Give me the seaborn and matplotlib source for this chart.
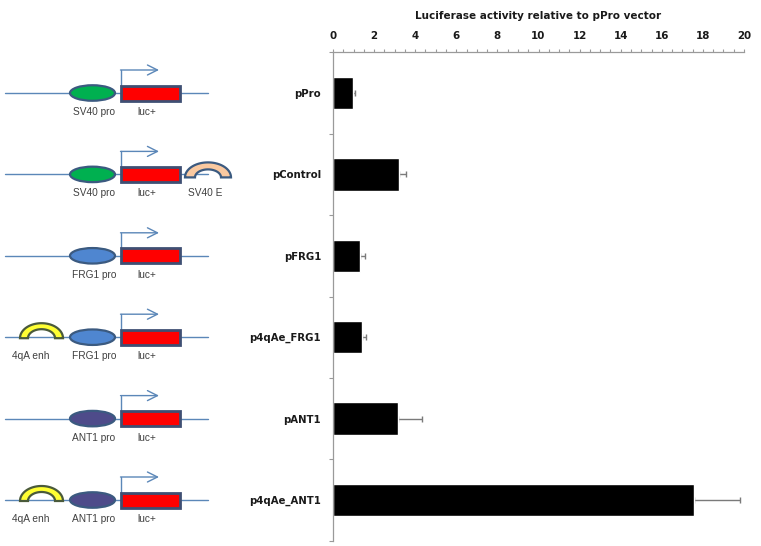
import numpy as np
import pandas as pd
import seaborn as sns
import matplotlib.pyplot as plt
from matplotlib.patches import Ellipse, Rectangle, Polygon

# ---------------- data ----------------
constructs = ["pPro", "pControl", "pFRG1", "p4qAe_FRG1", "pANT1", "p4qAe_ANT1"]
activity = [0.96, 3.23, 1.33, 1.40, 3.15, 17.58]
error_hi = [0.10, 0.32, 0.25, 0.21, 1.20, 2.24]
x_ticks = [0, 2, 4, 6, 8, 10, 12, 14, 16, 18, 20]
x_title = "Luciferase activity relative to pPro vector"

# diagram components per construct
promoter_label = ["SV40 pro", "SV40 pro", "FRG1 pro", "FRG1 pro", "ANT1 pro", "ANT1 pro"]
promoter_color = ["#00b050", "#00b050", "#4f86d0", "#4f86d0", "#4e4b8a", "#4e4b8a"]
has_enhancer = [False, False, False, True, False, True]
has_sv40e = [False, True, False, False, False, False]

df = pd.DataFrame({"construct": constructs, "activity": activity})

sns.set_theme(style="white")
plt.rcParams["font.family"] = ["DejaVu Sans"]

W, H = 761, 546
fig = plt.figure(figsize=(W / 100, H / 100), dpi=100)
fig.patch.set_facecolor("white")

top_px, bot_px = 52.3, 540.7
left_px, right_px = 333, 744
ax_rect = [left_px / W, 1 - bot_px / H, (right_px - left_px) / W, (bot_px - top_px) / H]
ax = fig.add_axes(ax_rect)

sns.barplot(data=df, x="activity", y="construct", orient="h", color="black",
            saturation=1, width=0.4, errorbar=None, ax=ax, zorder=2)
ypos = np.arange(len(constructs))
ax.errorbar(activity, ypos, xerr=[np.zeros(len(activity)), error_hi], fmt="none",
            ecolor="#7a7a7a", elinewidth=1, capsize=2.5, capthick=1, zorder=1)

ax.set_xlim(0, 20)
ax.set_ylim(len(constructs) - 0.5, -0.5)
ax.xaxis.tick_top()
ax.xaxis.set_label_position("top")
ax.set_xticks(x_ticks)
ax.set_xticklabels([str(t) for t in x_ticks], fontsize=7.4, fontweight="bold", color="#1a1a1a")
ax.set_xticks(np.arange(0, 20.01, 0.5), minor=True)
ax.tick_params(axis="x", which="both", direction="out", length=2.5, width=0.8,
               color="#9a9a9a", pad=5.5, top=True, bottom=False)
ax.set_xlabel(x_title, fontsize=7.5, fontweight="bold", color="#1a1a1a", labelpad=9)
ax.set_ylabel("")
ax.set_yticks(ypos)
ax.set_yticklabels(constructs, fontsize=7.3, fontweight="bold", color="#1a1a1a")
ax.set_yticks(np.arange(-0.5, len(constructs)), minor=True)
ax.tick_params(axis="y", which="major", length=0, pad=8.5)
ax.tick_params(axis="y", which="minor", direction="out", length=3, width=0.8,
               color="#9a9a9a", left=True)
for s in ["right", "bottom"]:
    ax.spines[s].set_visible(False)
for s in ["left", "top"]:
    ax.spines[s].set_color("#9a9a9a")
    ax.spines[s].set_linewidth(0.9)
ax.grid(False)

# ---------------- construct diagrams ----------------
dax = fig.add_axes([0, ax_rect[1], left_px / W, ax_rect[3]])
dax.set_xlim(0, left_px)
dax.set_ylim(len(constructs) - 0.5, -0.5)
dax.axis("off")
ppc = (bot_px - top_px) / len(constructs)  # pixels per category


def py(p):
    return p / ppc


def arch(cx, y0, a, b, ts, tt, face, edge):
    th = np.linspace(0, np.pi, 60)
    outer = np.column_stack([cx + a * np.cos(th), y0 - py(b) * np.sin(th)])
    inner = np.column_stack([cx + (a - ts) * np.cos(th[::-1]),
                             y0 - py(b - tt) * np.sin(th[::-1])])
    dax.add_patch(Polygon(np.vstack([outer, inner]), closed=True, facecolor=face,
                          edgecolor=edge, linewidth=1.6, zorder=3))


line_c = "#5b87b8"
edge_c = "#3b5a80"
txt_c = "#404040"
lab_kw = dict(fontsize=7.3, color=txt_c, ha="center", va="center",
              family=["Liberation Sans", "DejaVu Sans"])
for i, y in enumerate(ypos):
    dax.plot([5, 208], [y, y], color=line_c, lw=1, zorder=1)
    dax.add_patch(Ellipse((92.5, y), 45, py(15.5), facecolor=promoter_color[i],
                          edgecolor=edge_c, lw=1.6, zorder=3))
    dax.add_patch(Rectangle((121, y - py(7.5)), 59, py(15), facecolor="#ff0000",
                            edgecolor="#3f4f73", lw=2, zorder=3))
    ya = y - py(23)
    dax.plot([121, 121], [y - py(7.5), ya], color=line_c, lw=1, zorder=2)
    dax.annotate("", xy=(159, ya), xytext=(120.5, ya),
                 arrowprops=dict(arrowstyle="->,head_length=0.6,head_width=0.3",
                                 color=line_c, lw=1, shrinkA=0, shrinkB=0))
    dax.text(94, y + py(19), promoter_label[i], **lab_kw)
    dax.text(147, y + py(19), "luc+", **lab_kw)
    if has_enhancer[i]:
        arch(41.5, y + py(1), 21.5, 15, 8, 6, "#ffff33", "#4a5a3a")
        dax.text(31, y + py(19), "4qA enh", **lab_kw)
    if has_sv40e[i]:
        arch(208, y + py(3), 23, 15, 10, 7, "#fac9a0", "#3b5a80")
        dax.text(205, y + py(19), "SV40 E", **lab_kw)

fig.savefig("out.png", dpi=100, facecolor="white")
